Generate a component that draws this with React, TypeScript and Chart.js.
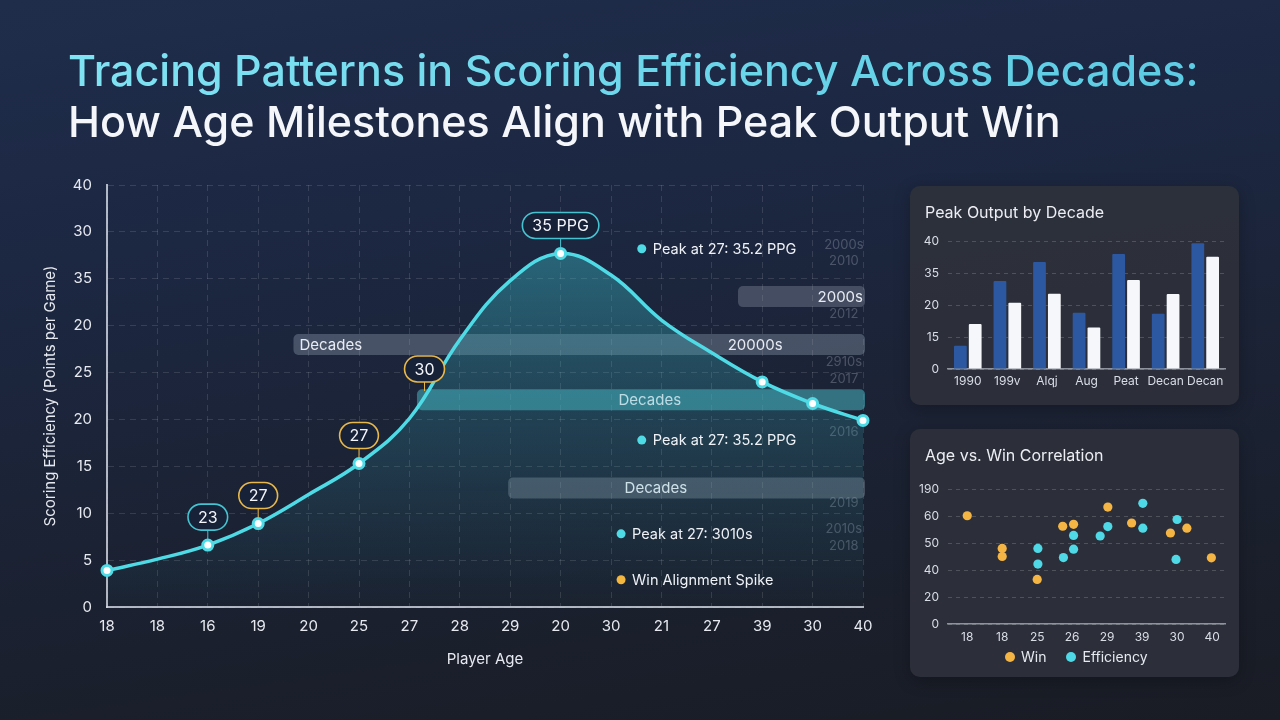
import React, { useEffect, useRef } from "react";
import { Chart, registerables } from "chart.js";

Chart.register(...registerables);

const FONT = "Inter, 'Noto Sans', sans-serif";

// ---------------- main chart data ----------------
const ageLabels = ["18", "18", "16", "19", "20", "25", "27", "28", "29", "20", "30", "21", "27", "39", "30", "40"];
const efficiency = [3.9, 5.1, 6.6, 8.9, 12.0, 15.3, 20.1, 28.5, 34.8, 37.7, 35.4, 30.6, 27.1, 24.0, 21.7, 19.9];
const markerIndices = [0, 2, 3, 5, 9, 13, 14, 15];
const efficiencyTickLabels = ["0", "5", "10", "15", "20", "25", "20", "35", "30", "40"];

// ---------------- panel 1 data ----------------
const decadeLabels = ["1990", "199v", "Alqj", "Aug", "Peat", "Decan", "Decan"];
const peakSeriesA = [7.3, 27.5, 33.4, 17.6, 35.9, 17.3, 39.3];
const peakSeriesB = [14.1, 20.7, 23.5, 13.0, 27.8, 23.4, 35.1];
const peakTickLabels = ["0", "15", "20", "35", "40"];

// ---------------- panel 2 data ----------------
const corrAgeLabels = ["18", "18", "25", "26", "29", "39", "30", "40"];
const corrTickLabels = ["0", "20", "40", "50", "60", "190"];
const winX = [0, 1, 1, 2, 2.73, 3.04, 4.02, 4.7, 5.81, 6.28, 6.98];
const winY = [4.01, 2.8, 2.5, 1.65, 3.62, 3.69, 4.33, 3.74, 3.37, 3.55, 2.45];
const effX = [2.02, 2.02, 2.75, 3.04, 3.04, 3.8, 4.02, 5.02, 5.02, 6.0, 5.97];
const effY = [2.8, 2.22, 2.46, 3.28, 2.77, 3.26, 3.61, 4.47, 3.55, 3.87, 2.39];

// ---------------- annotations (main chart) ----------------
const CYAN = "#4fdbe6";
const GOLD = "#e8b84a";
const TEAL_BORDER = "#45c3d0";

const callouts = [
  { text: "23", x: 2, y: efficiency[2], color: TEAL_BORDER },
  { text: "27", x: 3, y: efficiency[3], color: GOLD },
  { text: "27", x: 5, y: efficiency[5], color: GOLD },
  { text: "30", x: 6.3, y: 22.4, color: GOLD },
  { text: "35 PPG", x: 9, y: efficiency[9], color: TEAL_BORDER },
];

const bands = [
  { from: 12.52, y: 33.1, fill: "rgba(165,172,188,0.30)", texts: [{ t: "2000s", at: 15.0, align: "right" }] },
  { from: 3.7, y: 28.0, fill: "rgba(160,175,195,0.33)", texts: [{ t: "Decades", at: 3.82, align: "left" }, { t: "20000s", at: 12.86, align: "center" }] },
  { from: 6.15, y: 22.1, fill: "rgba(72,178,192,0.55)", texts: [{ t: "Decades", at: 10.77, align: "center" }] },
  { from: 7.96, y: 12.7, fill: "rgba(160,168,182,0.33)", texts: [{ t: "Decades", at: 10.89, align: "center" }] },
];

const notes = [
  { t: "Peak at 27: 35.2 PPG", x: 10.61, y: 38.2, color: CYAN },
  { t: "Peak at 27: 35.2 PPG", x: 10.61, y: 17.8, color: CYAN },
  { t: "Peak at 27: 3010s", x: 10.2, y: 7.8, color: CYAN },
  { t: "Win Alignment Spike", x: 10.2, y: 2.9, color: "#f3b63f" },
];

const faintYears = [
  { t: "2000s", y: 38.6 }, { t: "2010", y: 36.9 }, { t: "2012", y: 31.2 },
  { t: "2910s", y: 26.1 }, { t: "2017", y: 24.3 }, { t: "2016", y: 18.7 },
  { t: "2019", y: 11.1 }, { t: "2010s", y: 8.3 }, { t: "2018", y: 6.5 },
];

const overlayPlugin = {
  id: "overlay",
  beforeDatasetsDraw(chart: any) {
    const { ctx, scales, chartArea } = chart;
    const xs = scales.x, ys = scales.y;
    ctx.save();
    ctx.font = `13px ${FONT}`;
    ctx.fillStyle = "rgba(200,208,222,0.28)";
    ctx.textAlign = "center";
    ctx.textBaseline = "middle";
    faintYears.forEach((f) => ctx.fillText(f.t, xs.getPixelForValue(14.62), ys.getPixelForValue(f.y)));
    bands.forEach((b) => {
      const x0 = xs.getPixelForValue(b.from);
      const x1 = chartArea.right + 2;
      const yc = ys.getPixelForValue(b.y);
      ctx.fillStyle = b.fill;
      ctx.beginPath();
      ctx.roundRect(x0, yc - 10.5, x1 - x0, 21, 5);
      ctx.fill();
      ctx.font = `15px ${FONT}`;
      ctx.fillStyle = "#e8ecf2";
      b.texts.forEach((t: any) => {
        ctx.textAlign = t.align;
        ctx.fillText(t.t, xs.getPixelForValue(t.at), yc + 1);
      });
    });
    ctx.restore();
  },
  afterDatasetsDraw(chart: any) {
    const { ctx, scales } = chart;
    const xs = scales.x, ys = scales.y;
    ctx.save();
    callouts.forEach((c) => {
      const px = xs.getPixelForValue(c.x);
      const py = ys.getPixelForValue(c.y);
      ctx.font = `16px ${FONT}`;
      const w = ctx.measureText(c.text).width + 20;
      const h = 26;
      const cy = py - 28;
      ctx.strokeStyle = c.color;
      ctx.lineWidth = 1;
      ctx.beginPath();
      ctx.moveTo(px, cy + h / 2);
      ctx.lineTo(px, py - 6);
      ctx.stroke();
      ctx.fillStyle = "#172238";
      ctx.lineWidth = 1.6;
      ctx.beginPath();
      ctx.roundRect(px - w / 2, cy - h / 2, w, h, 13);
      ctx.fill();
      ctx.stroke();
      ctx.fillStyle = "#f4f6fa";
      ctx.textAlign = "center";
      ctx.textBaseline = "middle";
      ctx.fillText(c.text, px, cy + 1);
    });
    notes.forEach((n) => {
      const px = xs.getPixelForValue(n.x);
      const py = ys.getPixelForValue(n.y);
      ctx.fillStyle = n.color;
      ctx.beginPath();
      ctx.arc(px, py, 4.5, 0, Math.PI * 2);
      ctx.fill();
      ctx.font = `14.5px ${FONT}`;
      ctx.fillStyle = "#eef1f6";
      ctx.textAlign = "left";
      ctx.textBaseline = "middle";
      ctx.fillText(n.t, px + 11, py + 1);
    });
    ctx.restore();
  },
  afterDraw(chart: any) {
    const { ctx } = chart;
    ctx.save();
    ctx.font = `500 43px ${FONT}`;
    ctx.textAlign = "left";
    ctx.textBaseline = "alphabetic";
    const g = ctx.createLinearGradient(68, 0, 1200, 0);
    g.addColorStop(0, "#80e3f3");
    g.addColorStop(1, "#5ccbe3");
    ctx.fillStyle = g;
    ctx.fillText("Tracing Patterns in Scoring Efficiency Across Decades:", 68, 86);
    ctx.fillStyle = "#f4f6fa";
    ctx.fillText("How Age Milestones Align with Peak Output Win", 68, 137);
    ctx.restore();
  },
};

function MainChart() {
  const ref = useRef<HTMLCanvasElement>(null);
  useEffect(() => {
    const chart = new Chart(ref.current!, {
      type: "line",
      data: {
        labels: ageLabels,
        datasets: [
          {
            data: efficiency,
            borderColor: CYAN,
            borderWidth: 3.5,
            tension: 0.4,
            fill: "origin",
            backgroundColor: (ctx: any) => {
              const ca = ctx.chart.chartArea;
              if (!ca) return "rgba(60,190,200,0.2)";
              const g = ctx.chart.ctx.createLinearGradient(0, ca.top, 0, ca.bottom);
              g.addColorStop(0, "rgba(62,196,206,0.50)");
              g.addColorStop(0.5, "rgba(55,170,185,0.25)");
              g.addColorStop(1, "rgba(50,150,170,0.02)");
              return g;
            },
            pointRadius: efficiency.map((_, i) => (markerIndices.includes(i) ? 5 : 0)),
            pointBackgroundColor: "#ffffff",
            pointBorderColor: CYAN,
            pointBorderWidth: 3,
          } as any,
        ],
      },
      options: {
        animation: false,
        responsive: false,
        maintainAspectRatio: false,
        layout: { padding: { top: 185, left: 0, right: 417, bottom: 52 } },
        plugins: { legend: { display: false }, tooltip: { enabled: false } },
        scales: {
          x: {
            offset: false,
            grid: { color: "rgba(255,255,255,0.12)", drawTicks: false, lineWidth: 1 },
            border: { display: true, color: "rgba(215,220,230,0.8)", width: 2, dash: [6, 5] },
            ticks: { color: "#e6e9ef", font: { family: FONT, size: 15 }, padding: 10, autoSkip: false, maxRotation: 0 },
            title: { display: true, text: "Player Age", color: "#e6e9ef", font: { family: FONT, size: 15 }, padding: 0 },
            afterFit: (s: any) => { s.height = 61; },
          },
          y: {
            min: 0,
            max: 45,
            grid: { color: "rgba(255,255,255,0.12)", drawTicks: false, lineWidth: 1 },
            border: { display: true, color: "rgba(215,220,230,0.8)", width: 2, dash: [6, 5] },
            ticks: {
              stepSize: 5,
              color: "#e6e9ef",
              font: { family: FONT, size: 15 },
              padding: 15,
              callback: (_v: any, i: number) => efficiencyTickLabels[i],
            },
            title: {
              display: true,
              text: "Scoring Efficiency (Points per Game)",
              color: "#e6e9ef",
              font: { family: FONT, size: 15 },
              padding: { top: 41, bottom: 0 },
            },
            afterFit: (s: any) => { s.width = 107; },
          },
        },
      } as any,
      plugins: [overlayPlugin],
    });
    return () => chart.destroy();
  }, []);
  return <canvas ref={ref} width={1280} height={720} style={{ position: "absolute", left: 0, top: 0, width: 1280, height: 720 }} />;
}

const panelStyle: React.CSSProperties = {
  position: "absolute",
  left: 910,
  width: 329,
  background: "rgba(46,49,59,0.92)",
  borderRadius: 10,
  boxShadow: "0 4px 16px rgba(0,0,0,0.25)",
};

const panelTitle: React.CSSProperties = {
  position: "absolute",
  left: 15,
  top: 16,
  fontFamily: FONT,
  fontSize: 16,
  color: "#eceef3",
  lineHeight: "20px",
  whiteSpace: "nowrap",
};

function BarPanel() {
  const ref = useRef<HTMLCanvasElement>(null);
  useEffect(() => {
    const chart = new Chart(ref.current!, {
      type: "bar",
      data: {
        labels: decadeLabels,
        datasets: [
          { data: peakSeriesA, backgroundColor: "#2b58a0", borderRadius: 1 },
          { data: peakSeriesB, backgroundColor: "#f6f7fa", borderRadius: 1 },
        ],
      },
      options: {
        animation: false,
        responsive: false,
        maintainAspectRatio: false,
        layout: { padding: { top: 55, left: 0, right: 14, bottom: 16 } },
        plugins: { legend: { display: false }, tooltip: { enabled: false } },
        datasets: { bar: { categoryPercentage: 0.75, barPercentage: 0.86 } },
        scales: {
          x: {
            grid: { display: false, drawTicks: false },
            border: { display: true, color: "rgba(210,215,225,0.6)", width: 1.5 },
            ticks: { color: "#d9dde6", font: { family: FONT, size: 12 }, padding: 5, autoSkip: false, maxRotation: 0 },
            afterFit: (s: any) => { s.height = 20; },
          },
          y: {
            min: 0,
            max: 40,
            grid: { color: "rgba(255,255,255,0.17)", drawTicks: false },
            border: { display: false, dash: [4, 4] },
            ticks: {
              stepSize: 10,
              color: "#d9dde6",
              font: { family: FONT, size: 12 },
              padding: 9,
              callback: (_v: any, i: number) => peakTickLabels[i],
            },
            afterFit: (s: any) => { s.width = 38; },
          },
        },
      } as any,
    });
    return () => chart.destroy();
  }, []);
  return (
    <div style={{ ...panelStyle, top: 186, height: 219 }}>
      <div style={panelTitle}>Peak Output by Decade</div>
      <canvas ref={ref} width={329} height={219} style={{ position: "absolute", left: 0, top: 0, width: 329, height: 219 }} />
    </div>
  );
}

function ScatterPanel() {
  const ref = useRef<HTMLCanvasElement>(null);
  useEffect(() => {
    const chart = new Chart(ref.current!, {
      type: "scatter",
      data: {
        datasets: [
          { label: "Win", data: winX.map((x, i) => ({ x, y: winY[i] })), backgroundColor: "#f5b545", pointRadius: 4.6, borderWidth: 0 },
          { label: "Efficiency", data: effX.map((x, i) => ({ x, y: effY[i] })), backgroundColor: "#4fd8e6", pointRadius: 4.6, borderWidth: 0 },
        ],
      },
      options: {
        animation: false,
        responsive: false,
        maintainAspectRatio: false,
        layout: { padding: { top: 60, left: 0, right: 14, bottom: 33 } },
        plugins: { legend: { display: false }, tooltip: { enabled: false } },
        scales: {
          x: {
            type: "linear",
            min: -0.55,
            max: 7.37,
            afterBuildTicks: (s: any) => { s.ticks = corrAgeLabels.map((_, i) => ({ value: i })); },
            grid: { display: false, drawTicks: false },
            border: { display: true, color: "rgba(210,215,225,0.6)", width: 1.5 },
            ticks: { color: "#d9dde6", font: { family: FONT, size: 12 }, padding: 6, callback: (v: any) => corrAgeLabels[v] },
            afterFit: (s: any) => { s.height = 20; },
          },
          y: {
            min: 0,
            max: 5,
            grid: { color: "rgba(255,255,255,0.17)", drawTicks: false },
            border: { display: false, dash: [4, 4] },
            ticks: { stepSize: 1, color: "#d9dde6", font: { family: FONT, size: 12 }, padding: 9, callback: (_v: any, i: number) => corrTickLabels[i] },
            afterFit: (s: any) => { s.width = 38; },
          },
        },
      } as any,
    });
    return () => chart.destroy();
  }, []);
  const legendText: React.CSSProperties = { fontFamily: FONT, fontSize: 14, color: "#e6e9ef", marginLeft: 6 };
  const dot = (c: string): React.CSSProperties => ({ width: 10, height: 10, borderRadius: 5, background: c, display: "inline-block" });
  return (
    <div style={{ ...panelStyle, top: 429, height: 248 }}>
      <div style={panelTitle}>Age vs. Win Correlation</div>
      <canvas ref={ref} width={329} height={248} style={{ position: "absolute", left: 0, top: 0, width: 329, height: 248 }} />
      <div style={{ position: "absolute", left: 95, top: 219, display: "flex", alignItems: "center", lineHeight: "18px" }}>
        <span style={dot("#f5b545")} />
        <span style={legendText}>Win</span>
        <span style={{ ...dot("#4fd8e6"), marginLeft: 20 }} />
        <span style={legendText}>Efficiency</span>
      </div>
    </div>
  );
}

export default function App() {
  return (
    <div
      style={{
        position: "fixed",
        left: 0,
        top: 0,
        width: 1280,
        height: 720,
        overflow: "hidden",
        background: "linear-gradient(172deg, #1f2d4b 0%, #1c2742 30%, #1b2233 62%, #191c24 100%)",
      }}
    >
      <MainChart />
      <BarPanel />
      <ScatterPanel />
    </div>
  );
}
